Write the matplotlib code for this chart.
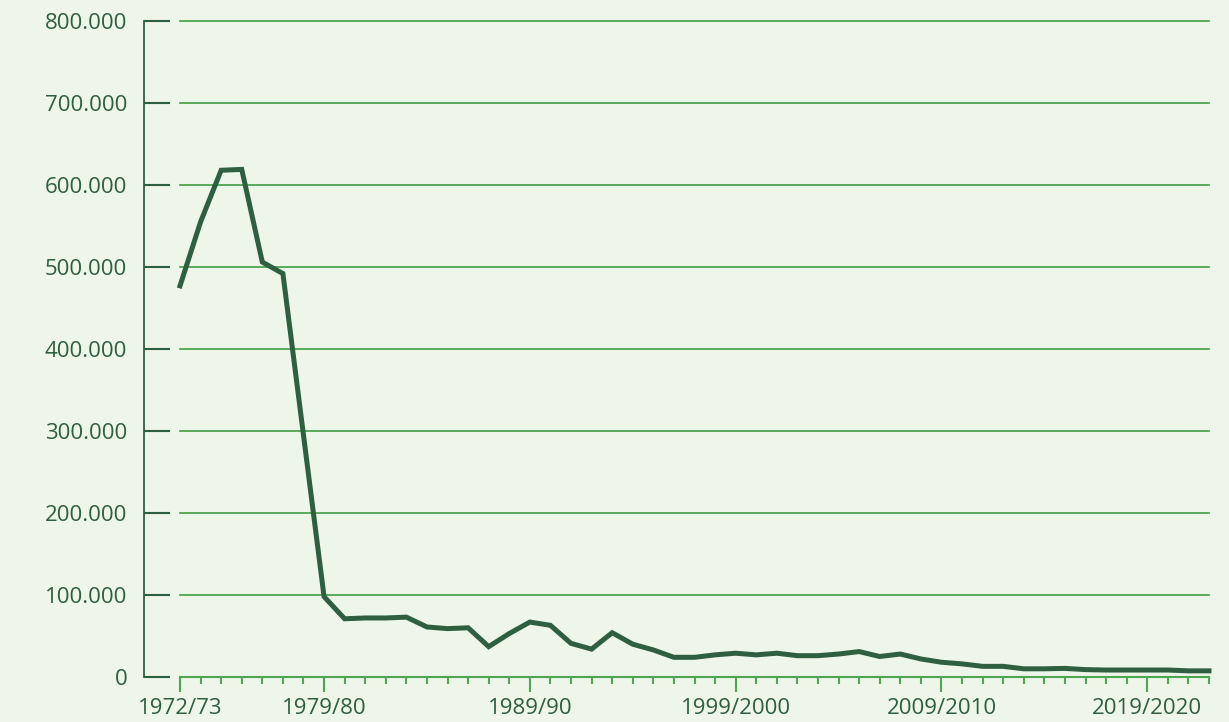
import matplotlib
matplotlib.use("Agg")
import matplotlib.pyplot as plt
from matplotlib.ticker import FixedLocator, MultipleLocator, FuncFormatter

# Values (one per school year, 1972/73 .. 2022/23)
years = list(range(1972, 2023))
values = [
    477000, 555000, 618000, 619000, 506000, 492000, 295000, 98000, 71000, 72000,
    72000, 73000, 61000, 59000, 60000, 37000, 53000, 67000, 63000, 41000,
    34000, 54000, 40000, 33000, 24000, 24000, 27000, 29000, 27000, 29000,
    26000, 26000, 28000, 31000, 25000, 28000, 22000, 18000, 16000, 13000,
    13000, 10000, 10000, 10500, 9000, 8500, 8500, 8500, 8500, 7500,
    7500,
]
label_years = [1972, 1979, 1989, 1999, 2009, 2019]
label_text = ["1972/73", "1979/80", "1989/90", "1999/2000", "2009/2010", "2019/2020"]
y_ticks = [0, 100000, 200000, 300000, 400000, 500000, 600000, 700000, 800000]

bg = "#eef5e9"
dark = "#2e6040"
grid_green = "#4fa552"
text_col = "#2f5f3f"

plt.rcParams["font.family"] = ["Open Sans", "DejaVu Sans"]

fig = plt.figure(figsize=(12.29, 7.22), dpi=100, facecolor=bg)
ax = fig.add_axes([180 / 1229, 1 - 677 / 722, (1209 - 180) / 1229, (677 - 21) / 722])
ax.set_facecolor(bg)

ax.plot(years, values, color=dark, linewidth=3.6, solid_joinstyle="miter",
        zorder=3, clip_on=False)

ax.set_xlim(1972, 2022)
ax.set_ylim(0, 800000)

# y axis: spine pushed left, ticks pointing inward toward the plot
ax.spines["left"].set_position(("outward", 25.9))
ax.spines["left"].set_color(dark)
ax.spines["left"].set_linewidth(1.3)
ax.spines["top"].set_visible(False)
ax.spines["right"].set_visible(False)
ax.spines["bottom"].set_color(grid_green)
ax.spines["bottom"].set_linewidth(1.5)

ax.yaxis.set_major_locator(FixedLocator(y_ticks))
ax.yaxis.set_major_formatter(
    FuncFormatter(lambda v, p: f"{int(v):,}".replace(",", "."))
)
ax.tick_params(axis="y", direction="in", length=18.7, width=1.5, color=dark,
               labelsize=16, labelcolor=text_col, pad=12)

ax.xaxis.set_major_locator(FixedLocator(label_years))
ax.set_xticklabels(label_text)
ax.xaxis.set_minor_locator(MultipleLocator(1))
ax.tick_params(axis="x", which="major", direction="out", length=10.5, width=1.5,
               color=grid_green, labelsize=16, labelcolor=text_col, pad=4.5)
ax.tick_params(axis="x", which="minor", direction="out", length=5, width=1.5,
               color=grid_green)

ax.grid(axis="y", color=grid_green, linewidth=1.3)
for gl in ax.get_ygridlines():
    gl.set_clip_on(False)
ax.set_axisbelow(True)

fig.savefig("out.png", dpi=100, facecolor=bg)
